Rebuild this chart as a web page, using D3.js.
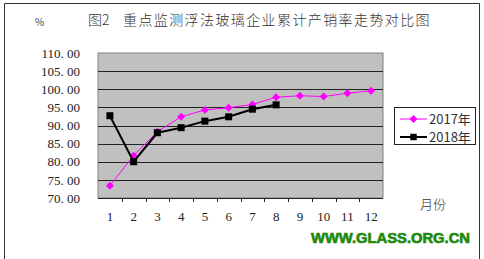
<!DOCTYPE html>
<html>
<head>
<meta charset="utf-8" />
<title>重点监测浮法玻璃企业累计产销率走势对比图</title>
<style>
body { margin: 0; background: #fff; }
svg { display: block; }
.cn { font-family: "Noto Sans CJK SC", sans-serif; }
.num { font-family: "Liberation Serif", serif; }
</style>
</head>
<body>
<script src="https://cdn.jsdelivr.net/npm/d3@7/dist/d3.min.js"></script>
<script>
var width = 484,
    height = 259;

// data
var months = [1, 2, 3, 4, 5, 6, 7, 8, 9, 10, 11, 12];
var rate2017 = [73.4, 81.7, 88.3, 92.4, 94.3, 94.9, 95.8, 97.8, 98.2, 98.0, 98.9, 99.6];
var rate2018 = [92.7, 80.0, 88.0, 89.4, 91.2, 92.4, 94.5, 95.7];
var yTicks = [70, 75, 80, 85, 90, 95, 100, 105, 110];
var seriesNames = ["2017年", "2018年"];

var plot = {left: 98, right: 383, top: 53, bottom: 198};

var svg = d3.select("body").append("svg")
  .attr("width", width)
  .attr("height", height);

// outer frame (bottom edge is off the picture)
svg.append("path")
  .attr("d", "M4.5," + height + "V3.5H479.5V" + height)
  .style("fill", "none")
  .style("stroke", "#333")
  .style("stroke-width", "1px");

var x = d3.scaleBand()
  .domain(months)
  .range([plot.left, plot.right]);

var y = d3.scaleLinear()
  .domain([70, 110])
  .range([plot.bottom, plot.top]);

// plot area
svg.append("rect")
  .attr("x", plot.left)
  .attr("y", plot.top)
  .attr("width", plot.right - plot.left)
  .attr("height", plot.bottom - plot.top)
  .style("fill", "#c0c0c0")
  .style("stroke", "#808080")
  .style("stroke-width", "1px");

// gridlines
svg.append("g")
  .selectAll("line")
  .data(yTicks.filter(function(d){ return d > 70 && d < 110; }))
  .enter()
  .append("line")
  .attr("x1", plot.left)
  .attr("x2", plot.right)
  .attr("y1", function(d){ return Math.round(y(d)) + 0.5; })
  .attr("y2", function(d){ return Math.round(y(d)) + 0.5; })
  .style("stroke", "#222")
  .style("stroke-width", "1px");

// y axis labels
var yAxis = d3.axisLeft(y)
  .tickValues(yTicks)
  .tickSize(0)
  .tickPadding(18)
  .tickFormat(function(d){ return d3.format(".2f")(d).replace(".", ". "); });

var gy = svg.append("g")
  .attr("transform", "translate(" + plot.left + ",0)")
  .call(yAxis);
gy.select(".domain").remove();
gy.selectAll("text")
  .attr("class", "num")
  .style("font-size", "13px")
  .style("fill", "#222");

// x axis
var xAxis = d3.axisBottom(x)
  .tickSize(0)
  .tickPadding(14);

var gx = svg.append("g")
  .attr("transform", "translate(0," + plot.bottom + ")")
  .call(xAxis);
gx.select(".domain").remove();
gx.selectAll("text")
  .attr("class", "num")
  .style("font-size", "13px")
  .style("fill", "#222");

svg.append("line")
  .attr("x1", plot.left)
  .attr("x2", plot.right)
  .attr("y1", plot.bottom + 0.5)
  .attr("y2", plot.bottom + 0.5)
  .style("stroke", "#222");

// tick marks between categories
svg.append("g")
  .selectAll("line")
  .data(months.slice(1))
  .enter()
  .append("line")
  .attr("x1", function(d){ return Math.round(x(d)) + 0.5; })
  .attr("x2", function(d){ return Math.round(x(d)) + 0.5; })
  .attr("y1", plot.bottom)
  .attr("y2", plot.bottom + 4)
  .style("stroke", "#222");

var cx = function(d, i){ return x(months[i]) + x.bandwidth() / 2; };

var line = d3.line()
  .x(cx)
  .y(function(d){ return y(d); });

// 2017 series
svg.append("path")
  .datum(rate2017)
  .attr("d", line)
  .style("fill", "none")
  .style("stroke", "#ff00ff")
  .style("stroke-width", "1px");

svg.append("g")
  .selectAll("path")
  .data(rate2017)
  .enter()
  .append("path")
  .attr("d", d3.symbol().type(d3.symbolDiamond2).size(40))
  .attr("transform", function(d, i){ return "translate(" + cx(d, i) + "," + y(d) + ")"; })
  .style("fill", "#ff00ff");

// 2018 series
svg.append("path")
  .datum(rate2018)
  .attr("d", line)
  .style("fill", "none")
  .style("stroke", "#000")
  .style("stroke-width", "2px");

svg.append("g")
  .selectAll("rect")
  .data(rate2018)
  .enter()
  .append("rect")
  .attr("x", function(d, i){ return cx(d, i) - 3.5; })
  .attr("y", function(d){ return y(d) - 3.5; })
  .attr("width", 7)
  .attr("height", 7)
  .style("fill", "#000");

// legend
var legend = svg.append("g").attr("transform", "translate(394,107)");
legend.append("rect")
  .attr("x", 0.5)
  .attr("y", 0.5)
  .attr("width", 81)
  .attr("height", 37)
  .style("fill", "#fff")
  .style("stroke", "#222");

var li = legend.selectAll(".item")
  .data(seriesNames)
  .enter()
  .append("g")
  .attr("transform", function(d, i){ return "translate(0," + (12 + i * 18) + ")"; });

li.append("line")
  .attr("x1", 6)
  .attr("x2", 33)
  .style("stroke", function(d, i){ return i ? "#000" : "#ff00ff"; })
  .style("stroke-width", function(d, i){ return i ? "2px" : "1px"; });

li.append("path")
  .attr("transform", "translate(19.5,0)")
  .attr("d", function(d, i){ return d3.symbol().type(i ? d3.symbolSquare : d3.symbolDiamond2).size(i ? 42 : 40)(); })
  .style("fill", function(d, i){ return i ? "#000" : "#ff00ff"; });

li.append("text")
  .attr("class", "cn")
  .attr("x", 35)
  .attr("dy", "0.36em")
  .style("font-size", "13px")
  .style("fill", "#333")
  .text(function(d){ return d; });

// title and axis captions
svg.append("text")
  .attr("class", "cn")
  .attr("x", 88)
  .attr("y", 25)
  .style("font-size", "14px")
  .style("font-weight", "300")
  .style("fill", "#333")
  .text("图2");

svg.append("text")
  .attr("class", "cn")
  .attr("x", 123)
  .attr("y", 25)
  .style("font-size", "14px")
  .style("font-weight", "300")
  .style("letter-spacing", "1.4px")
  .style("fill", "#333")
  .text("重点监测浮法玻璃企业累计产销率走势对比图");

svg.append("text")
  .attr("class", "cn")
  .attr("x", 35)
  .attr("y", 26)
  .style("font-size", "10px")
  .style("fill", "#444")
  .text("%");

svg.append("text")
  .attr("class", "cn")
  .attr("x", 420)
  .attr("y", 209)
  .style("font-size", "13px")
  .style("font-weight", "300")
  .style("fill", "#333")
  .text("月份");

// watermark
svg.append("text")
  .attr("x", 311)
  .attr("y", 243)
  .attr("textLength", 159)
  .attr("lengthAdjust", "spacingAndGlyphs")
  .style("font-family", "\"Liberation Sans\", Arial, sans-serif")
  .style("font-weight", "bold")
  .style("font-size", "15px")
  .style("fill", "#1f8a0c")
  .style("stroke", "#1f8a0c")
  .style("stroke-width", "0.7px")
  .text("WWW.GLASS.ORG.CN");
</script>
</body>
</html>
